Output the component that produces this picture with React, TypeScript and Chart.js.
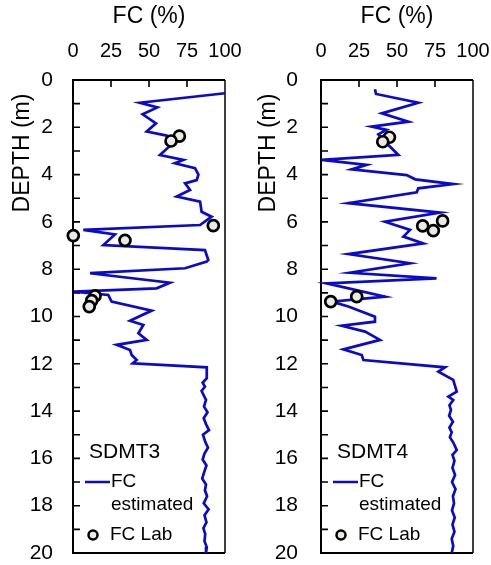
import React, { useEffect, useRef } from 'react';
import { Chart, registerables } from 'chart.js';
Chart.register(...registerables);

// ---- SDMT3 ----
const sdmt3Depth = [0.56, 0.96, 1.16, 1.45, 1.83, 2.18, 2.35, 2.6, 3.17, 3.38, 3.52, 3.73, 4.0, 4.23, 4.37, 4.65, 4.93, 5.14, 5.57, 5.78, 6.13, 6.34, 6.53, 6.98, 7.19, 7.61, 7.68, 7.96, 8.17, 8.57, 8.81, 8.95, 9.09, 9.37, 9.75, 10.18, 10.36, 10.71, 10.99, 11.2, 11.42, 11.63, 11.84, 11.98, 12.15, 12.61, 12.8, 12.97, 13.15, 13.53, 13.81, 14.05, 14.3, 14.55, 14.8, 15.0, 15.3, 15.55, 15.8, 16.05, 16.3, 16.6, 16.85, 17.1, 17.35, 17.6, 17.9, 18.15, 18.4, 18.7, 18.95, 19.2, 19.5, 19.75, 20.0];
const sdmt3FC = [100, 44, 55.5, 45.8, 54.6, 48.5, 61.6, 67, 57.2, 72.6, 67, 80.3, 82.5, 81.4, 73.7, 77, 68.2, 83.6, 84.6, 91.2, 83.6, 6.8, 27.6, 20, 86.8, 89, 88, 73.7, 11.2, 63.8, 55, 0.7, 23.2, 25.4, 51.8, 37.5, 46.3, 43, 48.5, 28.7, 37.5, 38.6, 41.9, 39.3, 88, 88, 85.3, 86.8, 84.6, 87.5, 86.2, 88.5, 86, 87.5, 89.5, 85.5, 87, 88.8, 86.5, 85.3, 87.8, 86.2, 85, 87.5, 86.8, 88.2, 86, 89.2, 86.5, 87.8, 85.8, 87, 86.5, 88, 87.5];
const sdmt3LabDepth = [2.37, 2.58, 6.16, 6.58, 6.78, 9.13, 9.33, 9.58];
const sdmt3LabFC = [70, 64.5, 92.3, 0.2, 34.2, 14.5, 12.3, 10.7];

// ---- SDMT4 ----
const sdmt4Depth = [0.39, 0.59, 0.96, 1.41, 1.76, 1.97, 2.11, 2.3, 2.6, 3.17, 3.38, 3.59, 3.78, 4.02, 4.2, 4.4, 4.58, 4.75, 5.21, 5.61, 5.99, 6.34, 6.62, 6.91, 7.36, 7.75, 8.15, 8.39, 8.6, 9.16, 9.37, 9.58, 10.01, 10.22, 10.39, 10.64, 10.99, 11.39, 11.63, 11.84, 12.15, 12.33, 12.68, 13.18, 13.39, 13.53, 13.75, 13.95, 14.2, 14.45, 14.7, 14.9, 15.1, 15.35, 15.65, 15.85, 16.1, 16.4, 16.7, 17.0, 17.3, 17.6, 17.9, 18.2, 18.5, 18.8, 19.1, 19.4, 19.7, 20.0];
const sdmt4FC = [35.5, 36.2, 64, 40, 57.5, 33.3, 43, 37.7, 42, 50.9, 0.4, 30, 20.2, 56.4, 62, 87, 64, 63, 18, 78.3, 42.1, 58.6, 54.2, 67.3, 18, 58.6, 19.1, 76, 3.7, 42.1, 7, 18, 35.5, 35.5, 13.6, 29, 38.8, 14.7, 26.8, 27.9, 81.6, 77.2, 87, 89.3, 83.8, 87, 84.5, 85.5, 84.3, 86.8, 84.5, 86, 84.8, 87.2, 89.3, 86.5, 87.8, 86.5, 88.2, 86.2, 88.5, 86.8, 87.5, 86.2, 88, 86.5, 87.8, 86, 87, 86];
const sdmt4LabDepth = [2.42, 2.61, 5.96, 6.17, 6.37, 9.16, 9.37];
const sdmt4LabFC = [45, 40.6, 80, 66.9, 73.9, 23.5, 6.4];

const xTicks = [0, 25, 50, 75, 100];
const FONT = "'Liberation Sans', Arial, Helvetica, sans-serif";
const BLUE = '#0A0ACD';
const MARKER_FILL = '#ECEAE0';

type PanelProps = {
  name: string;
  depth: number[];
  fc: number[];
  labDepth: number[];
  labFC: number[];
  left: number;
  width: number;
  plotLeft: number;
  plotRight: number;
  yPad: number;
  depthTitleX: number;
};

function Panel(p: PanelProps) {
  const ref = useRef<HTMLCanvasElement>(null);
  useEffect(() => {
    const canvas = ref.current!;
    const decor = {
      id: 'decor',
      beforeDatasetsDraw(chart: any) {
        const ctx = chart.ctx;
        const a = chart.chartArea;
        const xs = chart.scales.x;
        const ys = chart.scales.y;
        ctx.save();
        ctx.strokeStyle = '#000';
        ctx.lineWidth = 1.6;
        ctx.beginPath();
        for (const v of xTicks) {
          if (v === 0 || v === 100) continue;
          const x = xs.getPixelForValue(v);
          ctx.moveTo(x, a.top);
          ctx.lineTo(x, a.top + 7);
        }
        for (let d = 1; d < 20; d++) {
          const y = ys.getPixelForValue(d);
          ctx.moveTo(a.left, y);
          ctx.lineTo(a.left + 7, y);
        }
        ctx.stroke();
        ctx.lineWidth = 2;
        ctx.beginPath();
        ctx.moveTo(a.right, a.top);
        ctx.lineTo(a.left, a.top);
        ctx.lineTo(a.left, a.bottom);
        ctx.lineTo(a.right, a.bottom);
        ctx.stroke();
        ctx.lineWidth = 1.5;
        ctx.beginPath();
        ctx.moveTo(a.right, a.top);
        ctx.lineTo(a.right, a.bottom);
        ctx.stroke();
        ctx.restore();
      },
      afterDraw(chart: any) {
        const ctx = chart.ctx;
        const a = chart.chartArea;
        ctx.save();
        ctx.fillStyle = '#000';
        ctx.textBaseline = 'middle';
        ctx.font = `23px ${FONT}`;
        ctx.textAlign = 'center';
        ctx.fillText('FC (%)', (a.left + a.right) / 2, 17);
        ctx.save();
        ctx.translate(p.depthTitleX, 153);
        ctx.rotate(-Math.PI / 2);
        ctx.fillText('DEPTH (m)', 0, 0);
        ctx.restore();
        ctx.textAlign = 'left';
        ctx.font = `21px ${FONT}`;
        ctx.fillText(p.name, a.left + 16, 452);
        ctx.strokeStyle = BLUE;
        ctx.lineWidth = 2.5;
        ctx.beginPath();
        ctx.moveTo(a.left + 12, 482);
        ctx.lineTo(a.left + 37, 482);
        ctx.stroke();
        ctx.font = `19px ${FONT}`;
        ctx.fillText('FC', a.left + 38, 482);
        ctx.fillText('estimated', a.left + 38, 505);
        ctx.beginPath();
        ctx.arc(a.left + 20, 535, 4.5, 0, Math.PI * 2);
        ctx.fillStyle = MARKER_FILL;
        ctx.fill();
        ctx.strokeStyle = '#000';
        ctx.lineWidth = 2.5;
        ctx.stroke();
        ctx.fillStyle = '#000';
        ctx.fillText('FC Lab', a.left + 37, 535);
        ctx.restore();
      },
    };

    const zeroPad = (s: any) => {
      s.paddingLeft = 0;
      s.paddingRight = 0;
      s.paddingTop = 0;
      s.paddingBottom = 0;
    };

    const chart = new Chart(canvas, {
      type: 'scatter',
      data: {
        datasets: [
          {
            label: 'FC Lab',
            data: p.labFC.map((x, i) => ({ x, y: p.labDepth[i] })),
            showLine: false,
            pointRadius: 5.5,
            pointBorderWidth: 2.7,
            pointBackgroundColor: MARKER_FILL,
            pointBorderColor: '#000',
            clip: false,
            order: 0,
          } as any,
          {
            label: 'FC estimated',
            data: p.fc.map((x, i) => ({ x, y: p.depth[i] })),
            showLine: true,
            borderColor: BLUE,
            borderWidth: 2.7,
            pointRadius: 0,
            fill: false,
            tension: 0,
            clip: false,
            order: 1,
          } as any,
        ],
      },
      options: {
        responsive: false,
        animation: false,
        events: [],
        layout: { padding: { left: 0, top: 0, right: p.width - p.plotRight, bottom: 12 } },
        plugins: { legend: { display: false }, tooltip: { enabled: false } },
        scales: {
          x: {
            type: 'linear',
            position: 'top',
            min: 0,
            max: 100,
            afterBuildTicks: (s: any) => { s.ticks = xTicks.map((v) => ({ value: v })); },
            ticks: { font: { family: FONT, size: 20, lineHeight: 1 }, color: '#000', padding: 19, maxRotation: 0 },
            grid: { display: false, drawTicks: false },
            border: { display: false },
            afterFit: (s: any) => { s.height = 80; zeroPad(s); },
          },
          y: {
            type: 'linear',
            reverse: true,
            min: 0,
            max: 20,
            ticks: { stepSize: 2, font: { family: FONT, size: 21, lineHeight: 1 }, color: '#000', padding: p.yPad },
            grid: { display: false, drawTicks: false },
            border: { display: false },
            afterFit: (s: any) => { s.width = p.plotLeft; zeroPad(s); },
          },
        },
      } as any,
      plugins: [decor],
    });
    return () => chart.destroy();
  }, []);
  return (
    <canvas
      ref={ref}
      width={p.width}
      height={565}
      style={{ position: 'absolute', left: p.left, top: 0, width: p.width, height: 565 }}
    />
  );
}

export default function App() {
  return (
    <div style={{ position: 'absolute', left: 0, top: 0, width: 491, height: 565, background: '#fff' }}>
      <Panel name="SDMT3" depth={sdmt3Depth} fc={sdmt3FC} labDepth={sdmt3LabDepth} labFC={sdmt3LabFC}
        left={0} width={245} plotLeft={73} plotRight={225} yPad={20} depthTitleX={22.5} />
      <Panel name="SDMT4" depth={sdmt4Depth} fc={sdmt4FC} labDepth={sdmt4LabDepth} labFC={sdmt4LabFC}
        left={245} width={246} plotLeft={76} plotRight={228} yPad={23} depthTitleX={24} />
    </div>
  );
}
